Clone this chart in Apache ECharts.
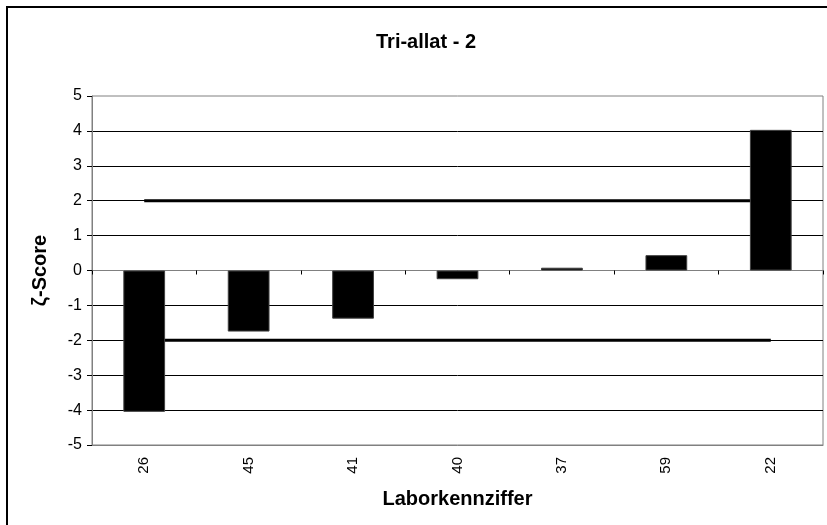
<!DOCTYPE html>
<html>
<head>
<meta charset="utf-8">
<script src="https://cdn.jsdelivr.net/npm/echarts@6/dist/echarts.min.js"></script>
<style>
  html, body { margin: 0; padding: 0; background: #fff; }
  #chart { width: 827px; height: 525px; }
</style>
</head>
<body>
<div id="chart"></div>
<script>
var categories = ['26', '45', '41', '40', '37', '59', '22'];
var zScores = [-4.05, -1.75, -1.38, -0.25, 0.08, 0.44, 4.03];
var upperLimit = [2, 2, 2, 2, 2, 2, 2];
var lowerLimit = [-2, -2, -2, -2, -2, -2, -2];
var yTicks = [-5, -4, -3, -2, -1, 0, 1, 2, 3, 4, 5];

var font = '"Liberation Sans", Arial, sans-serif';
var chart = echarts.init(document.getElementById('chart'), null, { renderer: 'canvas' });
chart.setOption({
  backgroundColor: '#ffffff',
  animation: false,
  graphic: [{
    type: 'rect',
    shape: { x: 7, y: 7, width: 900, height: 600 },
    style: { fill: 'none', stroke: '#000000', lineWidth: 2 },
    silent: true, z: -10
  }],
  title: {
    text: 'Tri-allat - 2',
    left: 421, top: 27, textAlign: 'center',
    textStyle: { fontFamily: font, fontSize: 20, fontWeight: 'bold', color: '#000' }
  },
  grid: {
    left: 92, right: 4, top: 96, bottom: 80,
    show: true, borderColor: '#808080', borderWidth: 1, backgroundColor: 'transparent'
  },
  xAxis: [{
    type: 'category',
    data: categories,
    position: 'bottom',
    axisLine: { onZero: false, lineStyle: { color: '#808080', width: 1 } },
    axisTick: { show: false },
    axisLabel: { rotate: 90, margin: 12, fontFamily: font, fontSize: 15, color: '#000' },
    name: 'Laborkennziffer',
    nameLocation: 'middle',
    nameGap: 44,
    nameTextStyle: { fontFamily: font, fontSize: 20, fontWeight: 'bold', color: '#000' },
    splitLine: { show: false }
  }, {
    type: 'category',
    data: categories,
    position: 'top',
    axisLine: { onZero: true, lineStyle: { color: '#808080', width: 1 } },
    axisTick: { show: true, inside: true, length: 4, lineStyle: { color: '#000' } },
    axisLabel: { show: false },
    splitLine: { show: false }
  }],
  yAxis: {
    type: 'value',
    min: yTicks[0], max: yTicks[yTicks.length - 1], interval: 1,
    axisLine: { show: true, lineStyle: { color: '#808080', width: 1 } },
    axisTick: { show: true, length: 5, lineStyle: { color: '#000' } },
    axisLabel: { margin: 10, fontFamily: font, fontSize: 16, color: '#000' },
    splitLine: { show: true, showMinLine: false, showMaxLine: false, lineStyle: { color: '#000', width: 1 } },
    name: 'ζ-Score',
    nameLocation: 'middle',
    nameRotate: 90,
    nameGap: 42,
    nameTextStyle: { fontFamily: font, fontSize: 20, fontWeight: 'bold', color: '#000' }
  },
  series: [{
    name: 'upper',
    type: 'line',
    data: upperLimit,
    symbol: 'none',
    lineStyle: { color: '#000', width: 3 },
    z: 1
  }, {
    name: 'lower',
    type: 'line',
    data: lowerLimit,
    symbol: 'none',
    lineStyle: { color: '#000', width: 3 },
    z: 1
  }, {
    name: 'z',
    type: 'bar',
    data: zScores,
    barWidth: '40%',
    itemStyle: { color: '#000', borderColor: '#404040', borderWidth: 1 },
    z: 3
  }]
});
</script>
</body>
</html>
